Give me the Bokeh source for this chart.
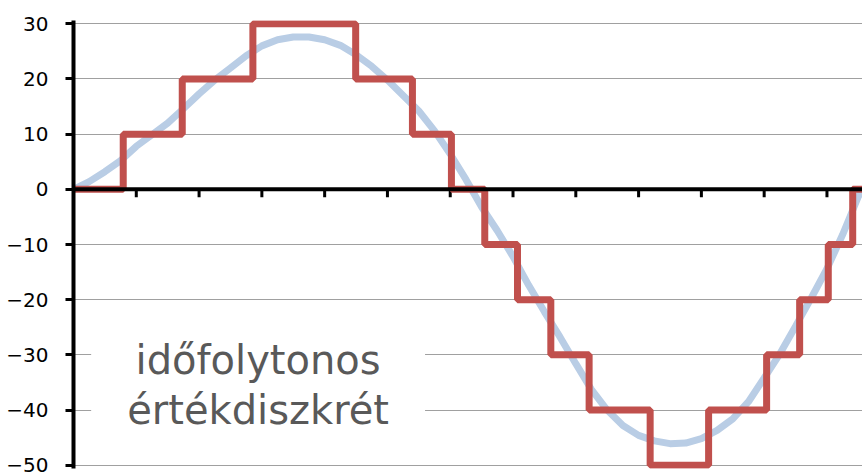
from math import pi
from bokeh.plotting import figure
from bokeh.models import Range1d, FixedTicker, Label, Span
from bokeh.embed import file_html
from bokeh.resources import INLINE

# continuous (time-continuous, value-continuous) signal
t_cont = [0, 0.25, 0.5, 0.75, 1.0, 1.25, 1.5, 1.75, 2.0, 2.25, 2.5, 2.75, 3.0, 3.25,
          3.5, 3.75, 4.0, 4.25, 4.5, 4.75, 5.0, 5.25, 5.5, 5.75, 6.0, 6.25, 6.5, 6.75,
          7.0, 7.25, 7.5, 7.75, 8.0, 8.25, 8.5, 8.75, 9.0, 9.25, 9.5, 9.75, 10.0, 10.25,
          10.5, 10.75, 11.0, 11.25, 11.5, 11.75, 12.0, 12.25, 12.5, 12.566]
v_cont = [0, 1.4, 3.2, 5.2, 7.8, 9.9, 12.0, 14.6, 17.3, 19.8, 22.0, 24.2, 26.0, 27.1,
          27.6, 27.6, 27.1, 26.1, 24.4, 22.3, 19.8, 17.0, 14.2, 10.6, 6.4, 1.8, -3.2, -7.5,
          -12.2, -17.4, -22.2, -26.8, -31.6, -36.3, -40.0, -42.8, -44.6, -45.6, -46.1, -46.0, -45.2, -43.7,
          -41.6, -38.5, -34.2, -29.8, -24.8, -19.7, -14.4, -8.2, -1.3, 0]

# quantized (value-discrete) signal: change points and levels
step_edges = [0, 0.792, 1.732, 2.857, 4.494, 5.398, 6.019, 6.55, 7.071, 7.602, 8.212,
              9.184, 10.115, 11.039, 11.565, 12.021, 12.41, 12.566]
step_levels = [0, 10, 20, 30, 20, 10, 0, -10, -20, -30, -40, -50, -40, -30, -20, -10, 0]

y_ticks = [-50, -40, -30, -20, -10, 0, 10, 20, 30]
x_ticks = list(range(1, 13))
annotation = "időfolytonos\nértékdiszkrét"

p = figure(width=862, height=476, output_backend="svg", toolbar_location=None,
           x_range=Range1d(0, 12.566), y_range=Range1d(-50.6, 30.6),
           min_border_left=73, min_border_right=0, min_border_top=20, min_border_bottom=8)
p.outline_line_color = None
p.background_fill_color = "white"
p.border_fill_color = "white"

# grid
p.xgrid.grid_line_color = None
p.ygrid.ticker = FixedTicker(ticks=y_ticks)
p.ygrid.grid_line_color = "#A0A0A0"
p.ygrid.grid_line_width = 1.2

# y axis
p.yaxis.ticker = FixedTicker(ticks=y_ticks)
p.yaxis.axis_line_color = "black"
p.yaxis.axis_line_width = 4
p.yaxis.major_tick_out = 8
p.yaxis.major_tick_in = 0
p.yaxis.major_tick_line_width = 3
p.yaxis.major_tick_line_color = "black"
p.yaxis.minor_tick_line_color = None
p.yaxis.major_label_standoff = 17
p.yaxis.major_label_text_font = "DejaVu Sans"
p.yaxis.major_label_text_font_size = "20px"
p.yaxis.major_label_text_color = "black"

# x axis: a line at y = 0 with unlabeled ticks below it
p.xaxis.visible = False
p.add_layout(Span(location=0, dimension="width", line_color="black", line_width=4))
p.ray(x=x_ticks, y=[0] * len(x_ticks), length=8, length_units="screen",
      angle=-pi / 2, line_color="black", line_width=3)

p.line(t_cont, v_cont, line_color="#B9CDE5", line_width=7)
p.step(x=step_edges, y=step_levels + [step_levels[-1]], mode="after",
       line_color="#C0504D", line_width=7)

lab = Label(x=2.94, y=-35.5, text=annotation, text_align="center", text_baseline="middle",
            text_font="DejaVu Sans", text_font_size="40px", text_color="#595959",
            text_line_height=1.1, background_fill_color="white", padding=(36, 10))
p.add_layout(lab)

open("out.html", "w").write(file_html(p, INLINE))
